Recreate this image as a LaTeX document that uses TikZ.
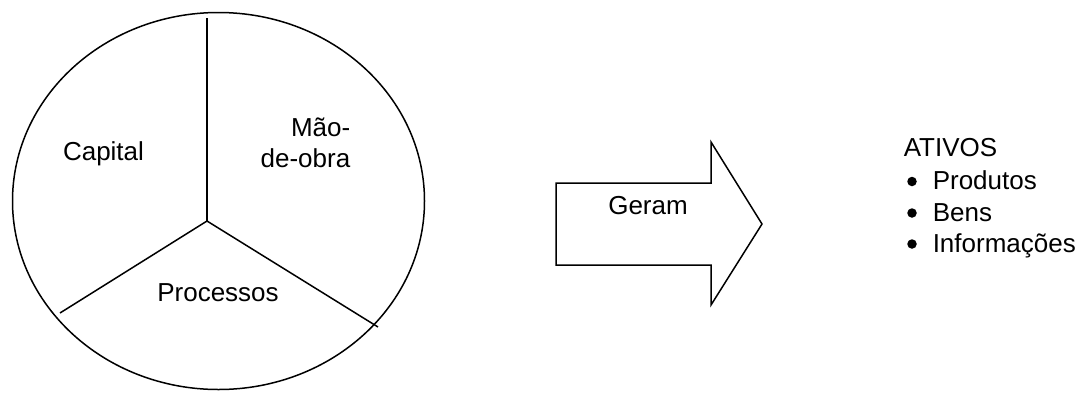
\documentclass[tikz,border=0pt]{standalone}
\usepackage{fontspec}
\setmainfont{Liberation Sans}
\usetikzlibrary{shapes.geometric}
\begin{document}
\begin{tikzpicture}[x=1pt,y=-1pt,line width=1.5pt,
  lbl/.style={inner sep=0pt,font=\fontsize{26}{31}\selectfont},
  dot/.style={circle,fill=black,draw=none,inner sep=0pt,minimum size=9.5pt},
  ln/.style={draw=black,line width=1.5pt,line join=miter}]
\useasboundingbox (0,0) rectangle (1081,392);
% circle
\node[ellipse,draw=black,line width=1.5pt,minimum width=412pt,minimum height=377pt,inner sep=0pt] (circ) at (218.5,201) {};
\coordinate (c) at (207,221);
\coordinate (t) at (207,18);
\coordinate (l) at (60,313);
\coordinate (r) at (378,327);
\draw[ln] (t) -- (c);
\draw[ln] (c) -- (l);
\draw[ln] (c) -- (r);
\node[lbl,anchor=base] (capital) at (103.5,160) {Capital};
\node[lbl,anchor=base east] (mao1) at (351,136) {Mão-};
\node[lbl,anchor=base east] (mao2) at (351,167) {de-obra};
\node[lbl,anchor=base] (proc) at (218,301) {Processos};
% arrow
\coordinate (a1) at (556,183);
\coordinate (a2) at (711,183);
\coordinate (a3) at (711,142);
\coordinate (a4) at (762,224);
\coordinate (a5) at (711,305);
\coordinate (a6) at (711,265);
\coordinate (a7) at (556,265);
\draw[ln] (a1) -- (a2) -- (a3) -- (a4) -- (a5) -- (a6) -- (a7) -- cycle;
\node[lbl,anchor=base] (geram) at (648,214) {Geram};
% list
\node[lbl,anchor=base west] (ativos) at (903,156.5) {ATIVOS};
\node[dot] (b1) at (912,181.5) {};
\node[dot] (b2) at (912,213) {};
\node[dot] (b3) at (912,244) {};
\node[lbl,anchor=base west] (i1) at (932,189) {Produtos};
\node[lbl,anchor=base west] (i2) at (932,221) {Bens};
\node[lbl,anchor=base west] (i3) at (932,252) {Informações};
\end{tikzpicture}
\end{document}
